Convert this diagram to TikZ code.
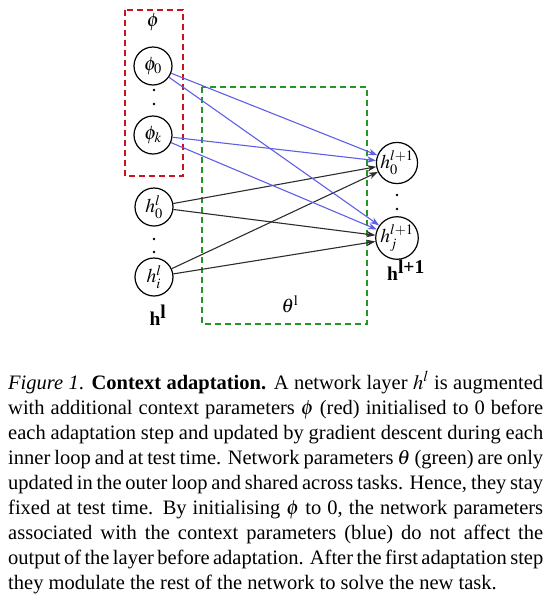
\documentclass[tikz,border=0pt]{standalone}
\usepackage{mathptmx}
\usepackage[no-math]{fontspec}
\setmainfont{Liberation Serif}
\usetikzlibrary{arrows.meta}
\definecolor{dred}{RGB}{200,20,30}
\definecolor{dgreen}{RGB}{35,150,35}
\definecolor{eblue}{RGB}{95,95,230}
\definecolor{edark}{RGB}{45,45,45}
\newcommand{\capline}[1]{\hbox to 535pt{#1}}
\begin{document}
\begin{tikzpicture}[x=1pt,y=-1pt,
  neuron/.style={circle,draw,line width=1.2pt,minimum size=38pt,inner sep=0pt,font=\fontsize{19.5}{22}\selectfont},
  redbox/.style={draw=dred,line width=2pt,dash pattern=on 6pt off 4pt},
  greenbox/.style={draw=dgreen,line width=2pt,dash pattern=on 6pt off 4pt},
  blueedge/.style={draw=eblue,line width=1.1pt,-{Stealth[length=9pt,width=6.5pt]}},
  darkedge/.style={draw=edark,line width=1.1pt,-{Stealth[length=9pt,width=6.5pt]}},
  dotmark/.style={circle,fill=black,inner sep=0pt,minimum size=2.8pt},
  lab/.style={inner sep=0pt,font=\fontsize{19.5}{22}\selectfont},
  capt/.style={anchor=base west,inner sep=0pt,font=\fontsize{20.5}{24}\selectfont}
]
\useasboundingbox (0,0) rectangle (548,603);

% boxes
\draw[redbox] (125,10) rectangle (183,176);
\draw[greenbox] (202,87) rectangle (367,324);

% neurons
\node[neuron] (p0) at (153,66) {$\phi_0$};
\node[neuron] (pk) at (153,135) {$\phi_k$};
\node[neuron] (h0) at (154,207) {$h^l_0$};
\node[neuron] (hi) at (154,277) {$h^l_i$};
\node[neuron] (o0) at (397,163) {$h^{l+1}_0$};
\node[neuron] (oj) at (397,238) {$h^{l+1}_j$};

% dots
\node[dotmark] (d1) at (154,90) {};
\node[dotmark] (d2) at (154,104) {};
\node[dotmark] (d3) at (154,239) {};
\node[dotmark] (d4) at (154,252) {};
\node[dotmark] (d5) at (397,195) {};
\node[dotmark] (d6) at (397,209) {};

% labels
\node[lab] (lphi) at (153,22) {$\phi$};
\node[lab] (lhl) at (158,315) {\textbf{h}$^{\textbf{l}}$};
\node[lab] (lth) at (290,304) {$\theta^{\mathrm{l}}$};
\node[lab] (lhl1) at (406,270) {\textbf{h}$^{\textbf{l+1}}$};

% edges
\draw[darkedge] (h0) -- (o0);
\draw[darkedge] (h0) -- (oj);
\draw[darkedge] (hi) -- (o0);
\draw[darkedge] (hi) -- (oj);
\draw[blueedge] (p0) -- (o0);
\draw[blueedge] (p0) -- (oj);
\draw[blueedge] (pk) -- (o0);
\draw[blueedge] (pk) -- (oj);

% caption
\node[capt] (c1) at (8,389) {\capline{\textit{Figure 1}. \textbf{Context adaptation.} A network layer $h^l$ is augmented}};
\node[capt] (c2) at (8,414) {\capline{with additional context parameters $\phi$ (red) initialised to 0 before}};
\node[capt] (c3) at (8,439) {\capline{each adaptation step and updated by gradient descent during each}};
\node[capt] (c4) at (8,464) {\capline{inner loop and at test time. Network parameters $\theta$ (green) are only}};
\node[capt] (c5) at (8,489) {\capline{updated in the outer loop and shared across tasks. Hence, they stay}};
\node[capt] (c6) at (8,514) {\capline{fixed at test time. By initialising $\phi$ to 0, the network parameters}};
\node[capt] (c7) at (8,539) {\capline{associated with the context parameters (blue) do not affect the}};
\node[capt] (c8) at (8,564) {\capline{output of the layer before adaptation. After the first adaptation step}};
\node[capt] (c9) at (8,589) {they modulate the rest of the network to solve the new task.};
\end{tikzpicture}
\end{document}
